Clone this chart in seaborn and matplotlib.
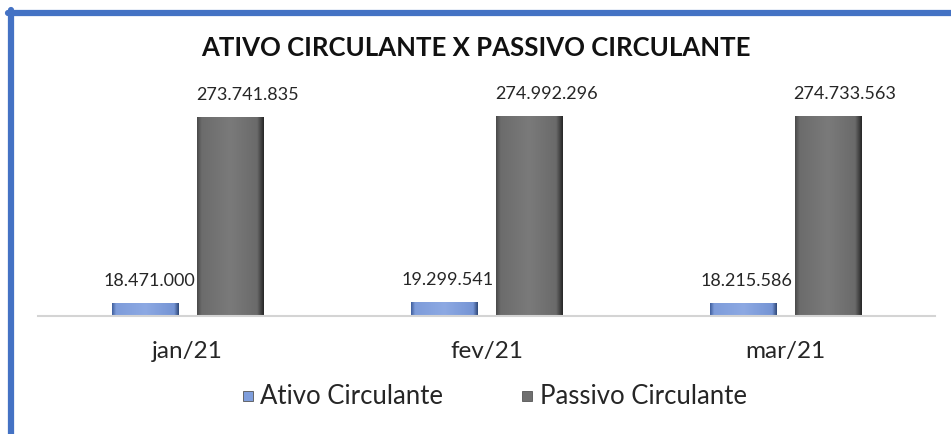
import matplotlib
matplotlib.use("Agg")
import matplotlib.pyplot as plt
import seaborn as sns
import pandas as pd
import numpy as np
from matplotlib.lines import Line2D
from matplotlib.colors import LinearSegmentedColormap

months = ["jan/21", "fev/21", "mar/21"]
ativo = [18471000, 19299541, 18215586]
passivo = [273741835, 274992296, 274733563]
series_names = ["Ativo Circulante", "Passivo Circulante"]
labels_ativo = ["18.471.000", "19.299.541", "18.215.586"]
labels_passivo = ["273.741.835", "274.992.296", "274.733.563"]

df = pd.DataFrame({
    "mes": months * 2,
    "valor": ativo + passivo,
    "serie": [series_names[0]] * 3 + [series_names[1]] * 3,
})

sns.set_theme(style="white")
plt.rcParams["font.family"] = ["Lato", "DejaVu Sans"]

fig = plt.figure(figsize=(9.51, 4.34), dpi=100)
ax = fig.add_axes([38 / 951, 1 - 316 / 434, (935 - 38) / 951, 256 / 434])

colors = {"Ativo Circulante": "#7F9EDC", "Passivo Circulante": "#6F6F6F"}
sns.barplot(data=df, x="mes", y="valor", hue="serie", palette=colors,
            width=0.57, gap=0.22, ax=ax, legend=False, saturation=1)

ax.set_ylim(0, 352e6)
ax.set_xlim(-0.5, 2.5)

# bevel-like horizontal shading for each bar
grad_cmaps = [
    LinearSegmentedColormap.from_list("b", [(0, "#3F5E9C"), (0.06, "#7E9CDA"), (0.5, "#8DA9E3"),
                                           (0.93, "#7594D4"), (1, "#2F4878")]),
    LinearSegmentedColormap.from_list("g", [(0, "#4A4A4A"), (0.07, "#6C6C6C"), (0.5, "#7A7A7A"),
                                           (0.9, "#6A6A6A"), (1, "#262626")]),
]
gradient = np.linspace(0, 1, 256).reshape(1, -1)
for ci, cont in enumerate(ax.containers):
    for bar in cont:
        x0, y0 = bar.get_x(), bar.get_y()
        w, h = bar.get_width(), bar.get_height()
        im = ax.imshow(gradient, extent=[x0, x0 + w, y0, y0 + h], aspect="auto",
                       cmap=grad_cmaps[ci], zorder=bar.get_zorder() + 0.1)
        im.set_clip_path(bar)
        bar.set_edgecolor("none")

offsets = [4, 17]
for ci, (cont, labs) in enumerate(zip(ax.containers, [labels_ativo, labels_passivo])):
    for bar, lab in zip(cont, labs):
        ax.annotate(lab, (bar.get_x() + bar.get_width() / 2, bar.get_height()),
                    xytext=(offsets[ci], 14), textcoords="offset pixels",
                    ha="center", va="bottom", fontsize=13, color="#262626")

for s in ["top", "right", "left"]:
    ax.spines[s].set_visible(False)
ax.spines["bottom"].set_color("#D4D4D4")
ax.spines["bottom"].set_linewidth(1.5)
ax.set_yticks([])
ax.set_xlabel("")
ax.set_ylabel("")
ax.tick_params(axis="x", which="major", length=0, labelsize=17.5, pad=18, labelcolor="#262626")
ax.set_xticks([-0.5, 0.5, 1.5, 2.5], minor=True)
ax.tick_params(axis="x", which="minor", length=6, width=1.2, color="#D4D4D4", direction="out")

fig.text(0.5, 1 - 48 / 434, "ATIVO CIRCULANTE X PASSIVO CIRCULANTE",
         ha="center", va="center", fontsize=18.5, fontweight="bold", color="#111111")

handles = [Line2D([], [], linestyle="none", marker="s", markersize=7.5,
                  markerfacecolor=colors[n], markeredgecolor="#555555", markeredgewidth=0.6)
           for n in series_names]
fig.legend(handles, series_names, loc="center", bbox_to_anchor=(494 / 951, 1 - 397 / 434),
           ncol=2, frameon=False, fontsize=18.5, handlelength=0.5,
           handletextpad=0.25, columnspacing=3.0, labelcolor="#262626")

fig.add_artist(Line2D([8 / 951, 1.0], [1 - 13 / 434, 1 - 13 / 434], color="#4472C4", linewidth=4.5,
                      transform=fig.transFigure))
fig.add_artist(Line2D([11 / 951, 11 / 951], [1 - 10 / 434, 0.0], color="#4472C4", linewidth=4.5,
                      transform=fig.transFigure))

fig.savefig("out.png", dpi=100, facecolor="white")
